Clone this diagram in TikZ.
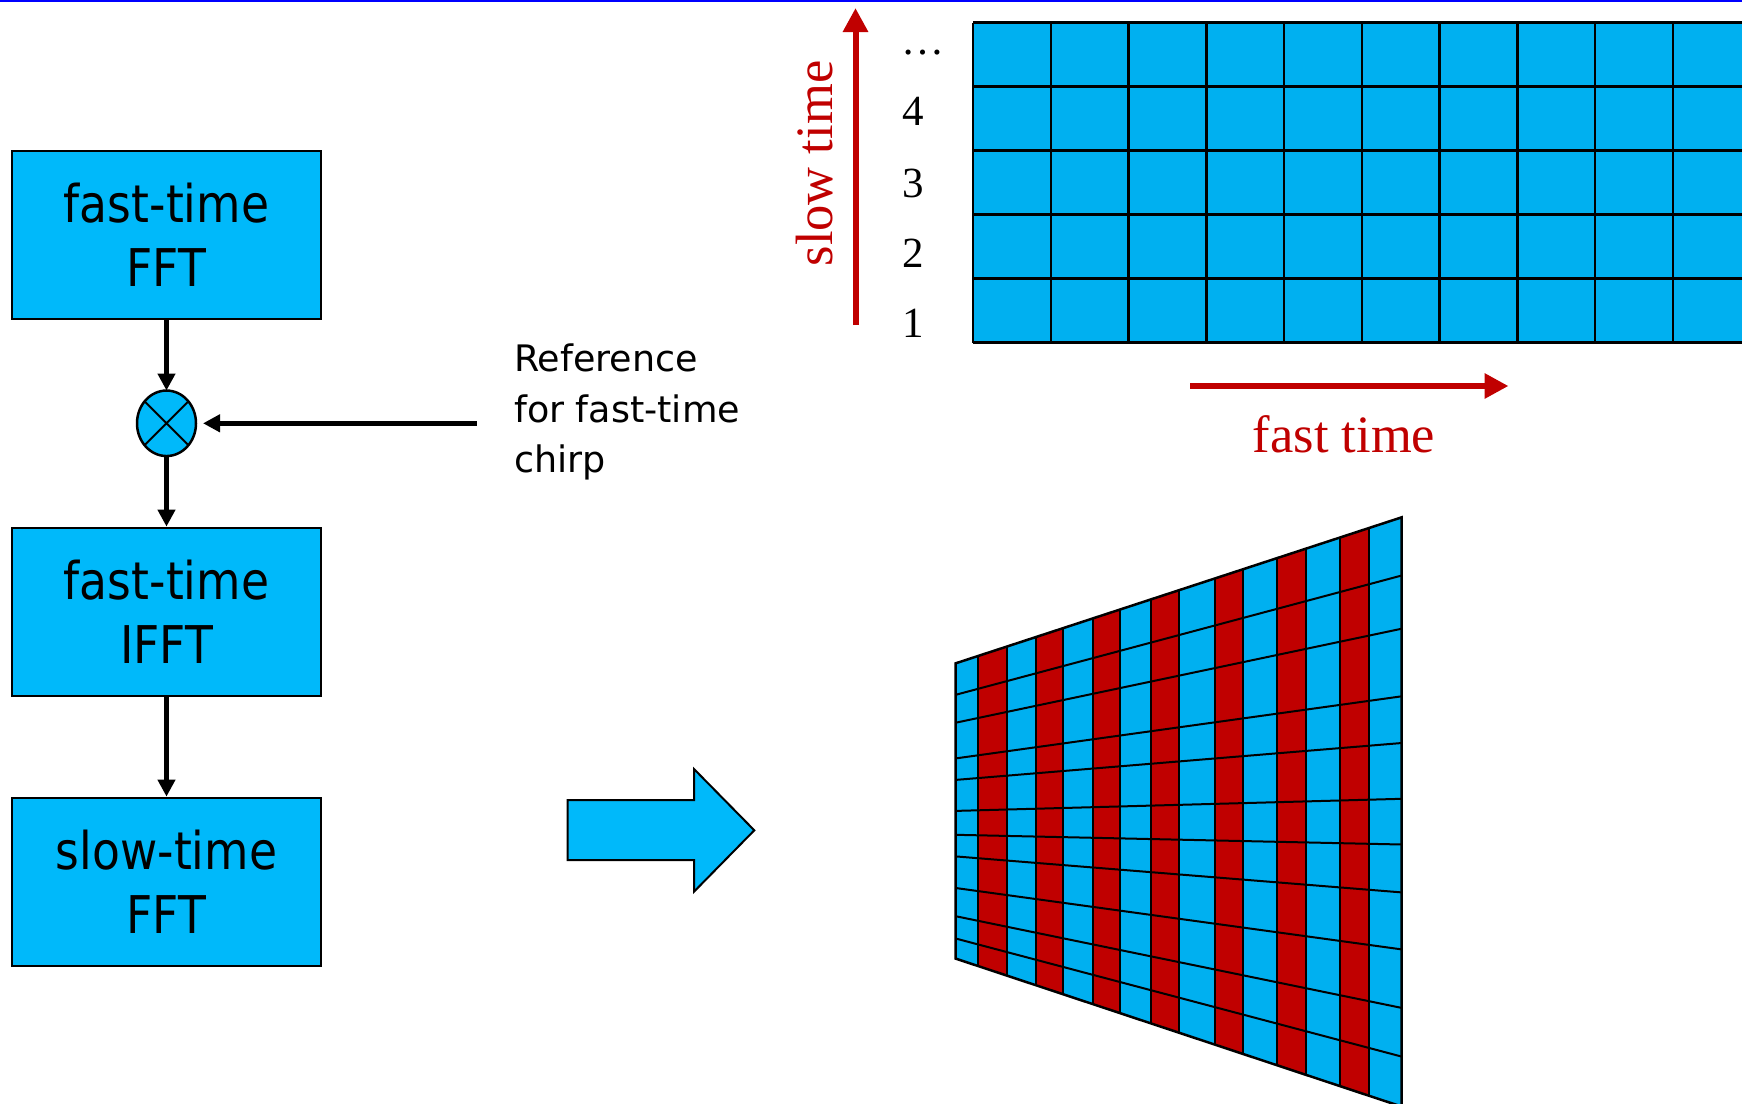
\documentclass[tikz,border=0pt]{standalone}
\usepackage{fontspec}
\setmainfont{Liberation Serif}
\newfontfamily\boxfont[FakeStretch=0.877]{DejaVu Sans}
\newfontfamily\verdfont{DejaVu Sans}
\usetikzlibrary{arrows.meta,shapes.geometric}
\definecolor{boxblue}{RGB}{0,185,250}
\definecolor{gridblue}{RGB}{0,176,240}
\definecolor{darkred}{RGB}{192,0,0}
\definecolor{topblue}{RGB}{0,0,255}
\begin{document}
\begin{tikzpicture}[x=1pt,y=-1pt,
  blockbox/.style={draw=black, line width=2pt, fill=boxblue, minimum width=309pt, minimum height=168pt, inner sep=0pt, align=center, font=\boxfont\fontsize{52}{64}\selectfont},
  flowarrow/.style={line width=5pt, -{Triangle[length=17pt,width=17pt]}},
  axisarrow/.style={draw=darkred, line width=6pt, -{Triangle[length=24pt,width=24pt]}},
  reftext/.style={anchor=base west, inner sep=0pt, font=\verdfont\fontsize{36.5}{50}\selectfont},
  numtext/.style={anchor=base, inner sep=0pt, font=\fontsize{43}{50}\selectfont},
  redtext/.style={anchor=base, inner sep=0pt, text=darkred, font=\fontsize{52.5}{60}\selectfont},
  gridline/.style={draw=black, line width=2.5pt},
  warpline/.style={draw=black, line width=2pt}
]
\useasboundingbox (0,0) rectangle (1742,1103);
\clip (0,0) rectangle (1742,1103);
\fill[white] (0,0) rectangle (1742,1103);
% top blue rule
\fill[topblue] (0,0) rectangle (1742,2.2);

% ---------- flow chart ----------
\node[blockbox] (box1) at (166.5,235) {fast-time\\FFT};
\node[blockbox] (box2) at (166.5,611.6) {fast-time\\IFFT};
\node[blockbox] (box3) at (166.5,881.6) {slow-time\\FFT};
\node[ellipse, draw=black, line width=2.5pt, fill=boxblue, minimum width=59pt, minimum height=65.5pt, inner sep=0pt, outer sep=0pt] (mult) at (166.5,423.3) {};
\draw[line width=2pt] (mult.45) -- (mult.225) (mult.135) -- (mult.315);
\coordinate (refend) at (476.7,423.3);
\draw[flowarrow] (box1) -- (mult);
\draw[flowarrow] (mult) -- (box2);
\draw[flowarrow] (box2) -- (box3);
\draw[flowarrow, shorten >=7pt] (refend) -- (mult);
\node[reftext] (ref1) at (514,371.7) {Reference};
\node[reftext] (ref2) at (514,422.2) {for fast-time};
\node[reftext] (ref3) at (514,472.2) {chirp};

% ---------- block arrow ----------
\draw[fill=boxblue, line width=2pt, line join=miter] (567.7,800) -- (694,800) -- (694,769) -- (754.3,830.3) -- (694,891.7) -- (694,860) -- (567.7,860) -- cycle;

% ---------- top grid ----------
\fill[gridblue] (973,22.7) rectangle (1760,342.7);
\foreach \i in {0,...,10} \draw[gridline] ({973+77.75*\i},22.7) -- ({973+77.75*\i},342.7);
\foreach \j in {0,...,5} \draw[gridline] (973,{22.7+64*\j}) -- (1760,{22.7+64*\j});
\draw[line width=3.5pt] (973,22.7) -- (1760,22.7);
\node[numtext] (ndots) at (923,54) {…};
\node[numtext] (n4) at (913,125) {4};
\node[numtext] (n3) at (913,197) {3};
\node[numtext] (n2) at (913,267) {2};
\node[numtext] (n1) at (913,337) {1};
\coordinate (slowA) at (855.5,325);
\coordinate (slowB) at (855.5,8);
\draw[axisarrow] (slowA) -- (slowB);
\node[redtext, rotate=90] (slowlabel) at (832,163.5) {slow time};
\coordinate (fastA) at (1190,386);
\coordinate (fastB) at (1508.5,386);
\draw[axisarrow] (fastA) -- (fastB);
\node[redtext] (fastlabel) at (1344,452.7) {fast time};

% ---------- warped grid ----------
\foreach \xa/\xb/\c in {955.7/978.3/gridblue, 978.3/1006.7/darkred, 1006.7/1035.7/gridblue, 1035.7/1063.3/darkred, 1063.3/1092.7/gridblue, 1092.7/1120.3/darkred, 1120.3/1151.3/gridblue, 1151.3/1178.7/darkred, 1178.7/1215.3/gridblue, 1215.3/1242.7/darkred, 1242.7/1277.3/gridblue, 1277.3/1305.7/darkred, 1305.7/1340.3/gridblue, 1340.3/1368.7/darkred, 1368.7/1401.7/gridblue}
  \fill[\c] (\xa,{663.3-0.32735*(\xa-955.7)}) -- (\xb,{663.3-0.32735*(\xb-955.7)}) -- (\xb,{958.6+0.3318*(\xb-955.7)}) -- (\xa,{958.6+0.3318*(\xa-955.7)}) -- cycle;
\foreach \l/\r in {694.8/575.5, 722.7/628.7, 758.4/696.3, 779.9/743, 810.9/798.8, 834.8/844.5, 856.4/892.4, 888/949.4, 916.2/1007.9, 938.5/1056.6}
  \draw[warpline] (955.7,\l) -- (1401.7,\r);
\foreach \x in {978.3, 1006.7, 1035.7, 1063.3, 1092.7, 1120.3, 1151.3, 1178.7, 1215.3, 1242.7, 1277.3, 1305.7, 1340.3, 1368.7}
  \draw[warpline] (\x,{663.3-0.32735*(\x-955.7)}) -- (\x,{958.6+0.3318*(\x-955.7)});
\draw[line width=2.5pt, line join=miter] (955.7,663.3) -- (1401.7,517.3) -- (1401.7,1106.6) -- (955.7,958.6) -- cycle;
\end{tikzpicture}
\end{document}
